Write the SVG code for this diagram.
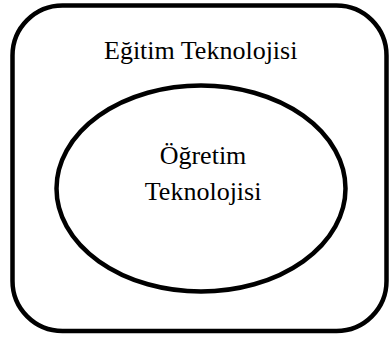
<svg xmlns="http://www.w3.org/2000/svg" width="390" height="338" viewBox="0 0 390 338" font-family="Liberation Serif, Times New Roman, serif">
<defs>
<style>
.shape{fill:#fff;stroke:#000;stroke-width:4.5}
text{font-family:"Liberation Serif","Times New Roman",serif;font-size:26px;fill:#000}
</style>
</defs>
<rect width="390" height="338" fill="#fff"/>
<g id="egitim">
<rect class="shape" x="12.5" y="5.5" width="374" height="325.5" rx="50" ry="50"/>
<text x="104" y="59">Eğitim Teknolojisi</text>
</g>
<g id="ogretim">
<ellipse class="shape" cx="201" cy="188.5" rx="144.5" ry="103"/>
<text x="159.7" y="164">Öğretim</text>
<text x="144.8" y="200">Teknolojisi</text>
</g>
<g id="connectors"/>
</svg>
